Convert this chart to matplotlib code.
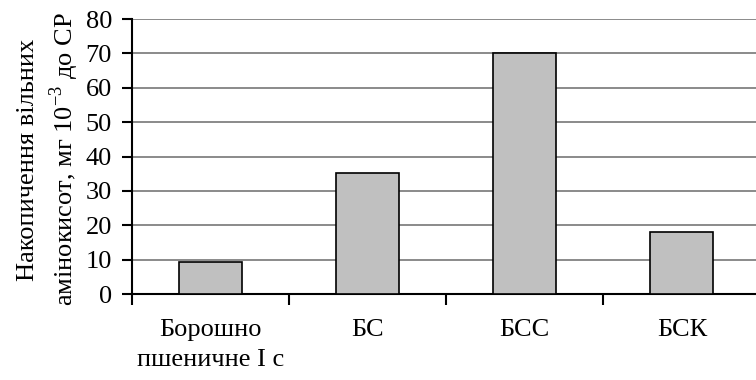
import numpy as np
import matplotlib.pyplot as plt

plt.rcParams['font.family'] = 'serif'
plt.rcParams['font.serif'] = ['Liberation Serif', 'DejaVu Serif']
plt.rcParams['mathtext.fontset'] = 'custom'
plt.rcParams['mathtext.rm'] = 'Liberation Serif'
plt.rcParams['font.size'] = 19

# data
categories = ["Борошно\nпшеничне І с", "БС", "БСС", "БСК"]
values = [9.3, 35.2, 70.0, 18.0]

fig = plt.figure(figsize=(7.56, 3.80), dpi=100)
ax = fig.add_axes([0.174, 0.226, 0.832, 0.724])

x = np.arange(len(categories))
ax.bar(x, values, width=0.40, color='#c0c0c0', edgecolor='black', linewidth=1.2, zorder=3)

ax.set_ylim(0, 80)
ax.set_xlim(-0.5, len(categories) - 0.5)
ax.set_yticks(np.arange(0, 81, 10))
ax.yaxis.grid(True, color='#777777', linewidth=1.2, zorder=0)
ax.set_axisbelow(True)

ax.set_xticks(x)
ax.set_xticklabels(categories, linespacing=1.45)
ax.set_xticks(np.arange(-0.5, len(categories), 1.0), minor=True)
ax.tick_params(axis='x', which='major', length=0, pad=18)
ax.tick_params(axis='x', which='minor', length=8, width=1.5, direction='out')
ax.tick_params(axis='y', length=7, width=1.5, direction='out', pad=7)

for s in ['top', 'right']:
    ax.spines[s].set_visible(False)
ax.spines['left'].set_linewidth(1.5)
ax.spines['bottom'].set_linewidth(1.5)

fig.text(0.037, 0.58, "Накопичення вільних", rotation=90, ha='center', va='center')
fig.text(0.085, 0.58, "амінокисот, мг 10$^{-3}$ до СР", rotation=90, ha='center', va='center')

fig.savefig('out.png', dpi=100)
